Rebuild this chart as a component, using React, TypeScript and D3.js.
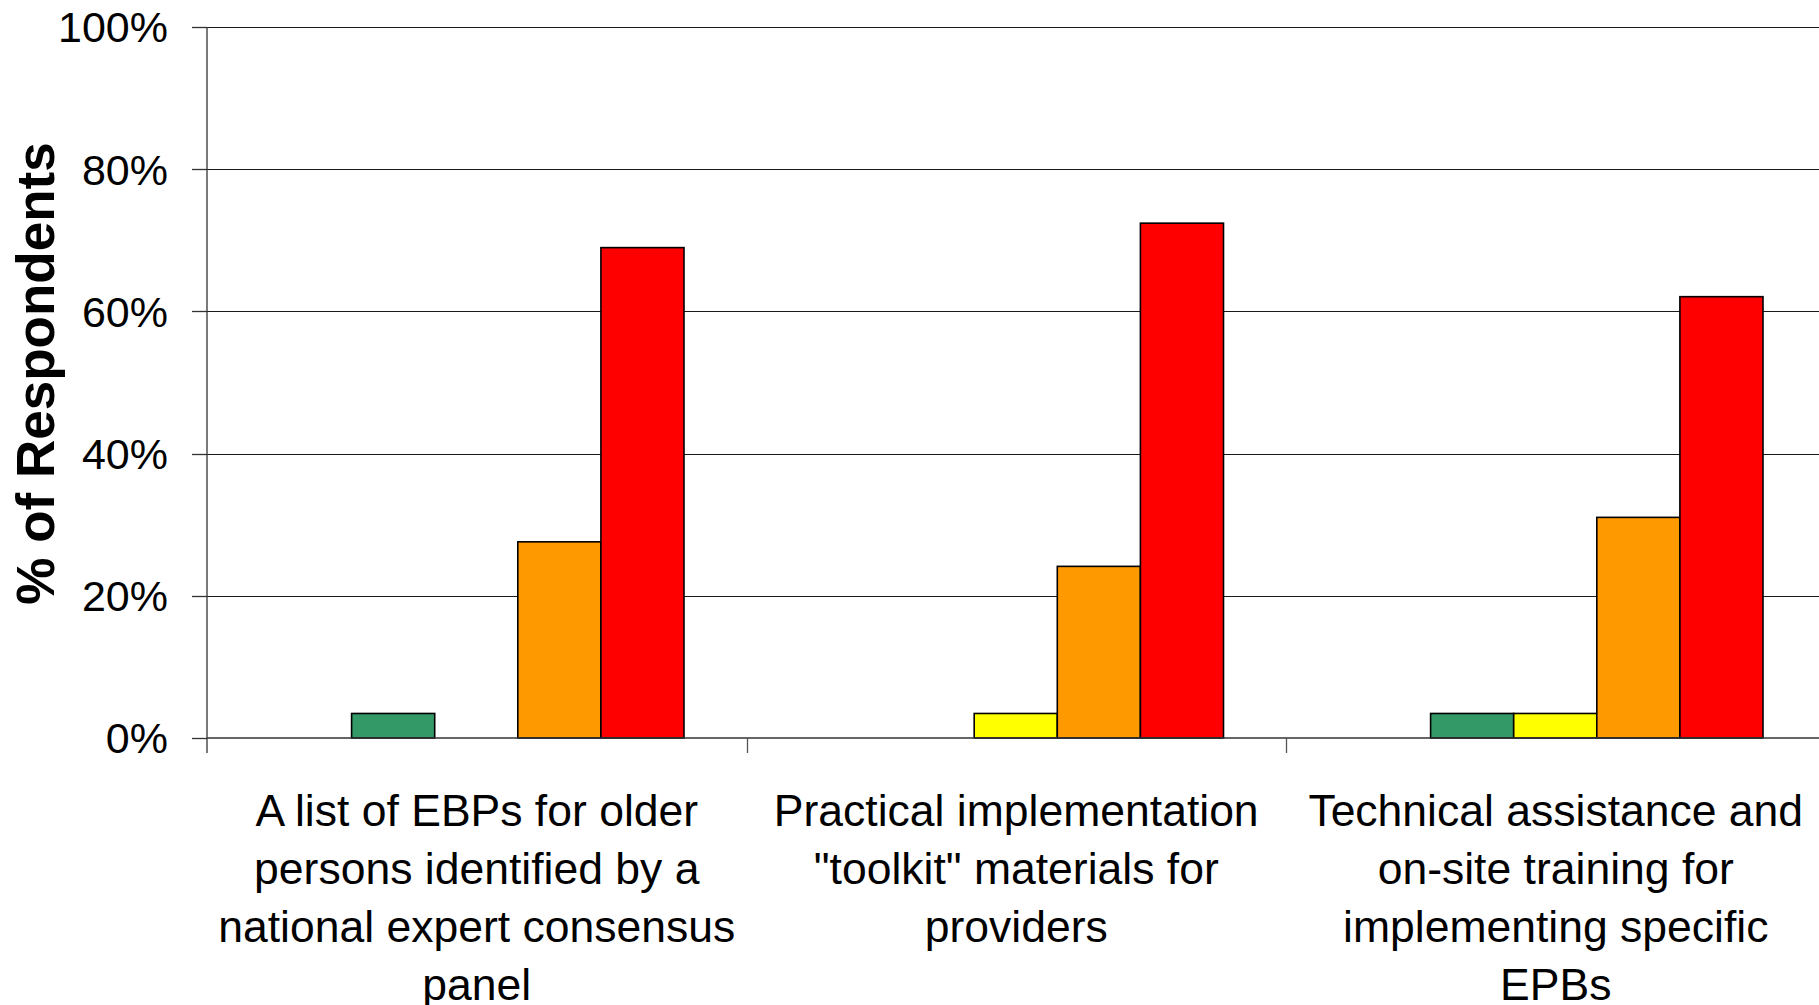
import React from "react";
import * as d3 from "d3";

const categories: string[][] = [
  ["A list of EBPs for older", "persons identified by a", "national expert consensus", "panel"],
  ["Practical implementation", "\"toolkit\" materials for", "providers"],
  ["Technical assistance and", "on-site training for", "implementing specific", "EPBs"],
];
const categoryKeys = ["list", "toolkit", "training"];

const seriesNames = ["Not needed", "Low priority", "Medium priority", "High priority", "Highest priority"];
const seriesColors = ["#3366CC", "#339966", "#FFFF00", "#FF9900", "#FF0000"];

const seriesNotNeeded = [0, 0, 0];
const seriesLow = [3.45, 0, 3.45];
const seriesMedium = [0, 3.45, 3.45];
const seriesHigh = [27.59, 24.14, 31.03];
const seriesHighest = [68.97, 72.41, 62.07];
const seriesValues = [seriesNotNeeded, seriesLow, seriesMedium, seriesHigh, seriesHighest];

const yTicks = [0, 20, 40, 60, 80, 100];
const yTitle = "% of Respondents";

const W = 1819;
const H = 1005;
const plotLeft = 207;
const plotTop = 27;
const plotBottom = 738;
const catWidth = 539.5;

export default function App() {
  const x = d3
    .scaleBand<string>()
    .domain(categoryKeys)
    .range([plotLeft, plotLeft + catWidth * categoryKeys.length])
    .paddingInner(0)
    .paddingOuter(0);
  const inner = d3
    .scaleBand<string>()
    .domain(seriesNames)
    .range([61.5, catWidth - 62.5])
    .paddingInner(0)
    .paddingOuter(0);
  const y = d3.scaleLinear().domain([0, 100]).range([plotBottom, plotTop]);

  const fontFamily = "'Liberation Sans', Arial, Helvetica, sans-serif";

  return (
    <svg
      width={W}
      height={H}
      style={{ position: "absolute", left: 0, top: 0, background: "#fff" }}
      fontFamily={fontFamily}
    >
      <rect x={0} y={0} width={W} height={H} fill="#fff" />
      {/* gridlines */}
      {yTicks
        .filter((t) => t > 0)
        .map((t) => (
          <line
            key={"g" + t}
            x1={plotLeft}
            x2={W}
            y1={Math.round(y(t)) + 0.5}
            y2={Math.round(y(t)) + 0.5}
            stroke="#1a1a1a"
            strokeWidth={1}
          />
        ))}
      {/* y ticks and labels */}
      {yTicks.map((t) => (
        <g key={"t" + t}>
          <line
            x1={plotLeft - 15}
            x2={plotLeft}
            y1={Math.round(y(t)) + 0.5}
            y2={Math.round(y(t)) + 0.5}
            stroke="#333"
            strokeWidth={1.3}
          />
          <text
            x={168}
            y={y(t)}
            dy="0.36em"
            textAnchor="end"
            fontSize={43}
            fill="#000"
          >
            {t + "%"}
          </text>
        </g>
      ))}
      {/* bars */}
      {categoryKeys.map((c, ci) => (
        <g key={c} transform={`translate(${x(c)},0)`}>
          {seriesNames.map((s, si) => {
            const v = seriesValues[si][ci];
            if (v <= 0) return null;
            return (
              <rect
                key={s}
                x={inner(s)}
                y={y(v)}
                width={inner.bandwidth()}
                height={plotBottom - y(v)}
                fill={seriesColors[si]}
                stroke="#000"
                strokeWidth={1.6}
              />
            );
          })}
        </g>
      ))}
      {/* x axis */}
      <line
        x1={plotLeft}
        x2={W}
        y1={plotBottom}
        y2={plotBottom}
        stroke="#333"
        strokeWidth={1.6}
      />
      {/* y axis */}
      <line
        x1={plotLeft}
        x2={plotLeft}
        y1={plotTop}
        y2={plotBottom + 15}
        stroke="#333"
        strokeWidth={1.3}
      />
      {/* category divider ticks */}
      {categoryKeys.slice(1).map((c) => (
        <line
          key={"d" + c}
          x1={Math.round(x(c)!) + 0.5}
          x2={Math.round(x(c)!) + 0.5}
          y1={plotBottom}
          y2={plotBottom + 15}
          stroke="#555"
          strokeWidth={1.3}
        />
      ))}
      {/* category labels */}
      {categoryKeys.map((c, ci) => (
        <text
          key={"l" + c}
          x={x(c)! + catWidth / 2}
          y={826}
          textAnchor="middle"
          fontSize={44.5}
          fill="#000"
        >
          {categories[ci].map((line, li) => (
            <tspan key={li} x={x(c)! + catWidth / 2} y={826 + li * 58}>
              {line}
            </tspan>
          ))}
        </text>
      ))}
      {/* y title */}
      <text
        transform={`translate(35, ${(plotTop + plotBottom) / 2 - 9}) rotate(-90)`}
        textAnchor="middle"
        dy="0.36em"
        fontSize={53}
        fontWeight="bold"
        fill="#000"
      >
        {yTitle}
      </text>
    </svg>
  );
}
